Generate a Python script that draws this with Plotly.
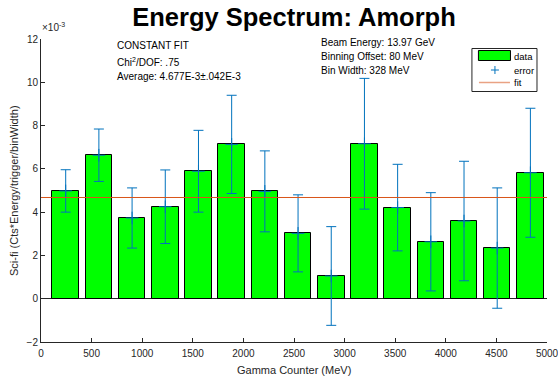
import plotly.graph_objects as go

# ---- data (y values in units of 1e-3) ----
bin_centers = [244, 572, 900, 1228, 1556, 1884, 2212, 2540, 2868, 3196, 3524, 3852, 4180, 4508, 4836]
values = [4.98, 6.63, 3.73, 4.25, 5.89, 7.13, 4.96, 3.02, 1.05, 7.16, 4.21, 2.63, 3.59, 2.34, 5.82]
errors = [0.98, 1.21, 1.39, 1.70, 1.89, 2.27, 1.87, 1.78, 2.28, 3.02, 2.00, 2.27, 2.76, 2.78, 2.98]
fit_x = [0, 5000]
fit_y = [4.677, 4.677]
bar_width = 262.4
x_ticks = [0, 500, 1000, 1500, 2000, 2500, 3000, 3500, 4000, 4500, 5000]
y_ticks = [-2, 0, 2, 4, 6, 8, 10, 12]

FONT = "Liberation Sans, Arial, Helvetica, sans-serif"
AX = "#262626"
BLUE = "#0072BD"
ORANGE = "#D95319"

fig = go.Figure()
fig.add_trace(go.Bar(x=bin_centers, y=values, width=bar_width,
                     marker=dict(color="#00FF00", line=dict(color="black", width=1)),
                     showlegend=False))
fig.add_trace(go.Scatter(x=bin_centers, y=values, mode="markers",
                         marker=dict(symbol="cross-thin", size=9, color=BLUE,
                                     line=dict(color=BLUE, width=1)),
                         error_y=dict(type="data", array=errors, color=BLUE,
                                      thickness=1, width=5),
                         showlegend=False))
fig.add_trace(go.Scatter(x=fit_x, y=fit_y, mode="lines",
                         line=dict(color=ORANGE, width=1), showlegend=False))

# plot area in pixels: x 41.5..547, y 39..342
def px(xp):
    return (xp - 41.5) / 505.5

def py(yp):
    return (342 - yp) / 303.0

ann = []
txt = dict(family=FONT, size=10, color="black")
for s, yy in [("CONSTANT FIT", 45.7), ("Chi<sup>2</sup>/DOF: .75", 62), ("Average: 4.677E-3±.042E-3", 76)]:
    ann.append(dict(text=s, x=px(115.5), y=py(yy), xref="paper", yref="paper",
                    xanchor="left", yanchor="middle", showarrow=False, font=txt))
for s, yy in [("Beam Energy: 13.97 GeV", 42.7), ("Binning Offset: 80 MeV", 56.7), ("Bin Width: 328 MeV", 70.3)]:
    ann.append(dict(text=s, x=px(319.5), y=py(yy), xref="paper", yref="paper",
                    xanchor="left", yanchor="middle", showarrow=False, font=txt))
# exponent label
ann.append(dict(text="×10<sup>-3</sup>", x=px(41), y=py(27), xref="paper", yref="paper",
                xanchor="left", yanchor="middle", showarrow=False,
                font=dict(family=FONT, size=10, color=AX)))
# axis titles
ann.append(dict(text="Gamma Counter (MeV)", x=0.5, y=py(370), xref="paper", yref="paper",
                xanchor="center", yanchor="middle", showarrow=False,
                font=dict(family=FONT, size=11, color=AX)))
ann.append(dict(text="Sci-fi (Cts*Energy/trigger/binWidth)", x=px(14), y=0.5, xref="paper", yref="paper",
                xanchor="center", yanchor="middle", showarrow=False, textangle=-90,
                font=dict(family=FONT, size=11, color=AX)))
# legend texts
for s, yy in [("data", 56), ("error", 70), ("fit", 82.5)]:
    ann.append(dict(text=s, x=px(512.5), y=py(yy), xref="paper", yref="paper",
                    xanchor="left", yanchor="middle", showarrow=False,
                    font=dict(family=FONT, size=9.5, color="black")))

shapes = [
    dict(type="rect", xref="paper", yref="paper", x0=px(472), x1=px(537), y0=py(91.5), y1=py(48.5),
         line=dict(color=AX, width=1), fillcolor="white", layer="above"),
    dict(type="rect", xref="paper", yref="paper", x0=px(478.5), x1=px(510.5), y0=py(60.5), y1=py(50.5),
         line=dict(color="black", width=1), fillcolor="#00FF00", layer="above"),
    dict(type="line", xref="paper", yref="paper", x0=px(491), x1=px(499), y0=py(70), y1=py(70),
         line=dict(color=BLUE, width=1), layer="above"),
    dict(type="line", xref="paper", yref="paper", x0=px(495), x1=px(495), y0=py(66), y1=py(74),
         line=dict(color=BLUE, width=1), layer="above"),
    dict(type="line", xref="paper", yref="paper", x0=px(479), x1=px(510), y0=py(82.5), y1=py(82.5),
         line=dict(color="#E9A283", width=1.5), layer="above"),
]

fig.update_layout(
    width=558, height=381,
    margin=dict(l=41, r=11, t=39, b=39, pad=0, autoexpand=False),
    paper_bgcolor="white", plot_bgcolor="white",
    title=dict(text="Energy Spectrum: Amorph", x=0.5, xref="paper", xanchor="center",
               y=1 - 17 / 381, yref="container", yanchor="middle",
               font=dict(family=FONT, size=25.5, color="black", weight="bold")),
    xaxis=dict(range=[0, 5000], tickvals=x_ticks, ticks="inside", ticklen=4, tickcolor=AX,
               showline=True, linecolor=AX, linewidth=1, showgrid=False, zeroline=False,
               ticklabeloverflow="allow", automargin=False, ticklabelstandoff=2,
               tickfont=dict(family=FONT, size=10, color=AX), mirror=False),
    yaxis=dict(range=[-2, 12], tickvals=y_ticks, ticks="inside", ticklen=4, tickcolor=AX,
               showline=True, linecolor=AX, linewidth=1, showgrid=False,
               zeroline=True, zerolinecolor=AX, zerolinewidth=1,
               ticklabeloverflow="allow", automargin=False,
               tickfont=dict(family=FONT, size=10, color=AX), mirror=False),
    annotations=ann, shapes=shapes, showlegend=False, bargap=0,
)

fig.write_html("out.html")
